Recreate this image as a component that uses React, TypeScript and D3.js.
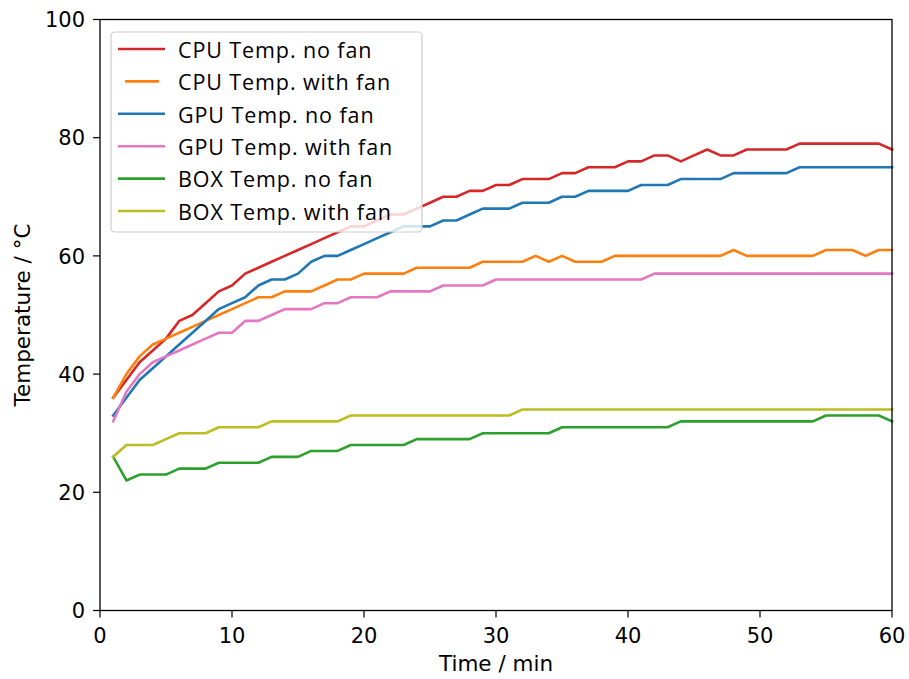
import React from "react";
import * as d3 from "d3";

const minutes: number[] = Array.from({ length: 60 }, (_, i) => i + 1);

const cpuNoFan = [36, 39, 42, 44, 46, 49, 50, 52, 54, 55, 57, 58, 59, 60, 61, 62, 63, 64, 65, 65,
  66, 67, 67, 68, 69, 70, 70, 71, 71, 72, 72, 73, 73, 73, 74, 74, 75, 75, 75, 76,
  76, 77, 77, 76, 77, 78, 77, 77, 78, 78, 78, 78, 79, 79, 79, 79, 79, 79, 79, 78];
const cpuWithFan = [36, 40, 43, 45, 46, 47, 48, 49, 50, 51, 52, 53, 53, 54, 54, 54, 55, 56, 56, 57,
  57, 57, 57, 58, 58, 58, 58, 58, 59, 59, 59, 59, 60, 59, 60, 59, 59, 59, 60, 60,
  60, 60, 60, 60, 60, 60, 60, 61, 60, 60, 60, 60, 60, 60, 61, 61, 61, 60, 61, 61];
const gpuNoFan = [33, 36, 39, 41, 43, 45, 47, 49, 51, 52, 53, 55, 56, 56, 57, 59, 60, 60, 61, 62,
  63, 64, 65, 65, 65, 66, 66, 67, 68, 68, 68, 69, 69, 69, 70, 70, 71, 71, 71, 71,
  72, 72, 72, 73, 73, 73, 73, 74, 74, 74, 74, 74, 75, 75, 75, 75, 75, 75, 75, 75];
const gpuWithFan = [32, 37, 40, 42, 43, 44, 45, 46, 47, 47, 49, 49, 50, 51, 51, 51, 52, 52, 53, 53,
  53, 54, 54, 54, 54, 55, 55, 55, 55, 56, 56, 56, 56, 56, 56, 56, 56, 56, 56, 56,
  56, 57, 57, 57, 57, 57, 57, 57, 57, 57, 57, 57, 57, 57, 57, 57, 57, 57, 57, 57];
const boxNoFan = [26, 22, 23, 23, 23, 24, 24, 24, 25, 25, 25, 25, 26, 26, 26, 27, 27, 27, 28, 28,
  28, 28, 28, 29, 29, 29, 29, 29, 30, 30, 30, 30, 30, 30, 31, 31, 31, 31, 31, 31,
  31, 31, 31, 32, 32, 32, 32, 32, 32, 32, 32, 32, 32, 32, 33, 33, 33, 33, 33, 32];
const boxWithFan = [26, 28, 28, 28, 29, 30, 30, 30, 31, 31, 31, 31, 32, 32, 32, 32, 32, 32, 33, 33,
  33, 33, 33, 33, 33, 33, 33, 33, 33, 33, 33, 34, 34, 34, 34, 34, 34, 34, 34, 34,
  34, 34, 34, 34, 34, 34, 34, 34, 34, 34, 34, 34, 34, 34, 34, 34, 34, 34, 34, 34];

const seriesNames = [
  "CPU Temp. no fan",
  "CPU Temp. with fan",
  "GPU Temp. no fan",
  "GPU Temp. with fan",
  "BOX Temp. no fan",
  "BOX Temp. with fan",
];
const seriesValues = [cpuNoFan, cpuWithFan, gpuNoFan, gpuWithFan, boxNoFan, boxWithFan];
const seriesColors = ["#d62728", "#ff7f0e", "#1f77b4", "#e377c2", "#2ca02c", "#bcbd22"];

const xTicks = [0, 10, 20, 30, 40, 50, 60];
const yTicks = [0, 20, 40, 60, 80, 100];
const xLabel = "Time / min";
const yLabel = "Temperature / °C";

const W = 909;
const H = 679;
const left = 100;
const right = 892;
const top = 19.5;
const bottom = 610.5;

export default function App() {
  const x = d3.scaleLinear().domain([0, 60]).range([left, right]);
  const y = d3.scaleLinear().domain([0, 100]).range([bottom, top]);
  const line = d3
    .line<number>()
    .x((_, i) => x(minutes[i]))
    .y((d) => y(d));

  const tickFont = "DejaVu Sans, sans-serif";
  const legendFont = "'Open Sans', sans-serif";
  const legX = 111;
  const legY = 32;
  const rowGap = 32.4;

  return (
    <svg
      width={W}
      height={H}
      viewBox={`0 0 ${W} ${H}`}
      style={{ position: "absolute", left: 0, top: 0, display: "block", background: "#fff" }}
    >
      <rect x={0} y={0} width={W} height={H} fill="#fff" />
      <g>
        {seriesValues.map((vals, k) => (
          <path
            key={k}
            d={line(vals) || ""}
            fill="none"
            stroke={seriesColors[k]}
            strokeWidth={2.6}
            strokeLinejoin="round"
            strokeLinecap="square"
          />
        ))}
      </g>
      {/* frame */}
      <rect
        x={left}
        y={top}
        width={right - left}
        height={bottom - top}
        fill="none"
        stroke="#000"
        strokeWidth={1.3}
      />
      {/* x ticks */}
      {xTicks.map((t) => (
        <g key={"x" + t}>
          <line x1={x(t)} x2={x(t)} y1={bottom} y2={bottom + 7} stroke="#000" strokeWidth={1.2} />
          <text
            x={x(t)}
            y={643}
            textAnchor="middle"
            fontFamily={tickFont}
            fontSize={21}
            fill="#000"
          >
            {t}
          </text>
        </g>
      ))}
      {/* y ticks */}
      {yTicks.map((t) => (
        <g key={"y" + t}>
          <line x1={left - 7} x2={left} y1={y(t)} y2={y(t)} stroke="#000" strokeWidth={1.2} />
          <text
            x={85}
            y={y(t) + 7.6}
            textAnchor="end"
            fontFamily={tickFont}
            fontSize={21}
            fill="#000"
          >
            {t}
          </text>
        </g>
      ))}
      <text
        x={(left + right) / 2}
        y={671}
        textAnchor="middle"
        fontFamily={tickFont}
        fontSize={21.5}
        fill="#000"
      >
        {xLabel}
      </text>
      <text
        transform={`translate(30, ${(top + bottom) / 2}) rotate(-90)`}
        textAnchor="middle"
        fontFamily={tickFont}
        fontSize={21.5}
        fill="#000"
      >
        {yLabel}
      </text>
      {/* legend */}
      <rect
        x={legX}
        y={legY}
        width={311}
        height={200}
        rx={4}
        ry={4}
        fill="#fff"
        fillOpacity={0.8}
        stroke="#cccccc"
        strokeWidth={1.2}
      />
      {seriesNames.map((name, k) => {
        const ly = 49 + k * rowGap;
        const short = k === 1;
        return (
          <g key={name}>
            <line
              x1={short ? 125 : 118}
              x2={short ? 159 : 165}
              y1={ly}
              y2={ly}
              stroke={seriesColors[k]}
              strokeWidth={2.6}
            />
            <text
              x={178}
              y={ly + 8.7}
              fontFamily={legendFont}
              fontSize={21.5}
              letterSpacing={0.9}
              fill="#000"
            >
              {name}
            </text>
          </g>
        );
      })}
    </svg>
  );
}
